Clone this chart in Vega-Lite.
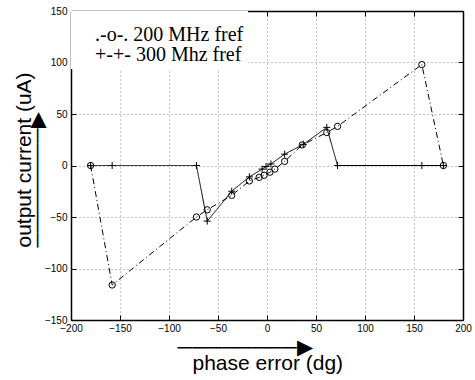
{
  "$schema": "https://vega.github.io/schema/vega-lite/v6.json",
  "width": 392,
  "height": 309,
  "autosize": {"type": "none"},
  "padding": {"left": 71, "top": 11, "right": 12, "bottom": 60},
  "background": "white",
  "config": {
    "view": {"stroke": "black", "strokeWidth": 1},
    "axis": {
      "labelFont": "Liberation Sans",
      "labelFontSize": 10,
      "labelColor": "black",
      "labelFlush": false,
      "tickColor": "black",
      "tickSize": -5,
      "domainColor": "black",
      "domainWidth": 1.5,
      "gridColor": "#888888",
      "gridDash": [1, 3],
      "gridWidth": 1,
      "titleFont": "Liberation Sans",
      "titleFontSize": 21,
      "titleFontWeight": "normal",
      "titleColor": "black"
    }
  },
  "data": {
    "values": [
      {"series": ".-o-. 200 MHz fref", "i": 1, "x": -180, "y": 0},
      {"series": ".-o-. 200 MHz fref", "i": 2, "x": -158, "y": -116},
      {"series": ".-o-. 200 MHz fref", "i": 3, "x": -72, "y": -50},
      {"series": ".-o-. 200 MHz fref", "i": 4, "x": -61, "y": -43},
      {"series": ".-o-. 200 MHz fref", "i": 5, "x": -36, "y": -29},
      {"series": ".-o-. 200 MHz fref", "i": 6, "x": -18, "y": -15},
      {"series": ".-o-. 200 MHz fref", "i": 7, "x": -8, "y": -11.5},
      {"series": ".-o-. 200 MHz fref", "i": 8, "x": -3, "y": -9.5},
      {"series": ".-o-. 200 MHz fref", "i": 9, "x": 3, "y": -6.5},
      {"series": ".-o-. 200 MHz fref", "i": 10, "x": 8, "y": -3.5},
      {"series": ".-o-. 200 MHz fref", "i": 11, "x": 18, "y": 4},
      {"series": ".-o-. 200 MHz fref", "i": 12, "x": 36, "y": 20},
      {"series": ".-o-. 200 MHz fref", "i": 13, "x": 61, "y": 32},
      {"series": ".-o-. 200 MHz fref", "i": 14, "x": 72, "y": 38},
      {"series": ".-o-. 200 MHz fref", "i": 15, "x": 158, "y": 98},
      {"series": ".-o-. 200 MHz fref", "i": 16, "x": 180, "y": 0},
      {"series": "+-+- 300 Mhz fref", "i": 1, "x": -180, "y": 0},
      {"series": "+-+- 300 Mhz fref", "i": 2, "x": -158, "y": 0},
      {"series": "+-+- 300 Mhz fref", "i": 3, "x": -72, "y": 0},
      {"series": "+-+- 300 Mhz fref", "i": 4, "x": -61, "y": -54},
      {"series": "+-+- 300 Mhz fref", "i": 5, "x": -36, "y": -25},
      {"series": "+-+- 300 Mhz fref", "i": 6, "x": -18, "y": -11},
      {"series": "+-+- 300 Mhz fref", "i": 7, "x": -5, "y": -3.5},
      {"series": "+-+- 300 Mhz fref", "i": 8, "x": -1, "y": -1},
      {"series": "+-+- 300 Mhz fref", "i": 9, "x": 4, "y": 1.5},
      {"series": "+-+- 300 Mhz fref", "i": 10, "x": 18, "y": 11},
      {"series": "+-+- 300 Mhz fref", "i": 11, "x": 37, "y": 20.5},
      {"series": "+-+- 300 Mhz fref", "i": 12, "x": 61, "y": 37},
      {"series": "+-+- 300 Mhz fref", "i": 13, "x": 72, "y": 0},
      {"series": "+-+- 300 Mhz fref", "i": 14, "x": 158, "y": 0},
      {"series": "+-+- 300 Mhz fref", "i": 15, "x": 180, "y": 0}
    ]
  },
  "layer": [
    {
      "mark": {"type": "line", "color": "black", "strokeWidth": 1},
      "encoding": {
        "x": {
          "field": "x", "type": "quantitative",
          "scale": {"domain": [-200, 200], "nice": false},
          "axis": {"values": [-200, -150, -100, -50, 0, 50, 100, 150, 200], "grid": true, "labelPadding": 8,
            "title": ["────────▶", "\u2800phase error (dg)"],
            "titleAlign": "left", "titleBaseline": "alphabetic", "titleAnchor": "start",
            "titleX": 106, "titleY": 33, "titleLineHeight": 16}
        },
        "y": {
          "field": "y", "type": "quantitative",
          "scale": {"domain": [-150, 150], "nice": false},
          "axis": {"values": [-150, -100, -50, 0, 50, 100, 150], "grid": true, "labelPadding": 9,
            "title": ["output current (uA)", "────────▶"],
            "titleAlign": "left", "titleBaseline": "alphabetic", "titleAnchor": "start", "titleAngle": -90,
            "titleX": -41, "titleY": 236, "titleLineHeight": 13}
        },
        "order": {"field": "i", "type": "quantitative"},
        "strokeDash": {
          "field": "series", "type": "nominal",
          "scale": {"domain": [".-o-. 200 MHz fref", "+-+- 300 Mhz fref"], "range": [[6, 3, 1, 3], [1, 0]]},
          "legend": {
            "title": "\u2002",
            "titleFontSize": 8,
            "titlePadding": 2,
            "orient": "top-left",
            "offset": 0,
            "padding": 4,
            "fillColor": "white",
            "labelFont": "Liberation Serif",
            "labelFontSize": 20,
            "labelColor": "black",
            "labelLimit": 400,
            "labelOffset": 0,
            "symbolSize": 0,
            "symbolOpacity": 0,
            "symbolStrokeWidth": 0,
            "rowPadding": 0
          }
        }
      }
    },
    {
      "transform": [{"filter": "datum.series === '.-o-. 200 MHz fref'"}],
      "mark": {"type": "point", "shape": "circle", "filled": false, "color": "black", "size": 40, "strokeWidth": 1, "opacity": 1},
      "encoding": {
        "x": {"field": "x", "type": "quantitative", "axis": null},
        "y": {"field": "y", "type": "quantitative", "axis": null}
      }
    },
    {
      "transform": [{"filter": "datum.series === '+-+- 300 Mhz fref'"}],
      "mark": {"type": "point", "shape": "M-1,0L1,0M0,-1L0,1", "filled": false, "color": "black", "size": 49, "strokeWidth": 1, "opacity": 1},
      "encoding": {
        "x": {"field": "x", "type": "quantitative", "axis": null},
        "y": {"field": "y", "type": "quantitative", "axis": null}
      }
    },
    {
      "mark": {"type": "point", "opacity": 0},
      "encoding": {
        "x": {"field": "x", "type": "quantitative",
          "axis": {"orient": "top", "values": [-200, -150, -100, -50, 0, 50, 100, 150, 200], "labels": false, "title": null, "grid": false}},
        "y": {"field": "y", "type": "quantitative",
          "axis": {"orient": "right", "values": [-150, -100, -50, 0, 50, 100, 150], "labels": false, "title": null, "grid": false}}
      }
    }
  ],
  "resolve": {"axis": {"x": "independent", "y": "independent"}}
}
